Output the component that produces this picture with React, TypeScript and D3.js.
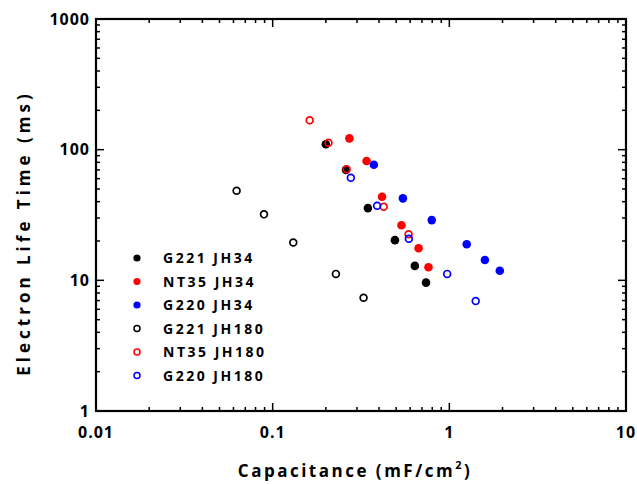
import * as d3 from 'd3';

// capacitance (mF/cm2) vs electron life time (ms)
const g221JH34 = [[0.2, 110], [0.26, 70], [0.346, 35.7], [0.492, 20.3], [0.638, 12.9], [0.738, 9.6]];
const nt35JH34 = [[0.272, 122], [0.34, 82], [0.416, 43.6], [0.536, 26.4], [0.67, 17.6], [0.762, 12.6]];
const g220JH34 = [[0.374, 76.7], [0.546, 42.4], [0.795, 28.9], [1.254, 18.9], [1.59, 14.3], [1.93, 11.85]];
const g221JH180 = [[0.0625, 48.5], [0.0893, 32], [0.1308, 19.5], [0.228, 11.2], [0.327, 7.36]];
const nt35JH180 = [[0.162, 168], [0.207, 113], [0.262, 70.7], [0.425, 36.6], [0.588, 22.5]];
const g220JH180 = [[0.277, 61], [0.39, 37.2], [0.59, 20.8], [0.972, 11.2], [1.41, 6.95]];

const seriesNames = ['G221 JH34', 'NT35 JH34', 'G220 JH34', 'G221 JH180', 'NT35 JH180', 'G220 JH180'];
const seriesData = [g221JH34, nt35JH34, g220JH34, g221JH180, nt35JH180, g220JH180];
const seriesColors = ['#000000', '#ff0000', '#0000ff', '#000000', '#ff0000', '#0000ff'];
const seriesFilled = [true, true, true, false, false, false];

const xTicks = [0.01, 0.1, 1, 10];
const xTickLabels = ['0.01', '0.1', '1', '10'];
const yTicks = [1, 10, 100, 1000];
const yTickLabels = ['1', '10', '100', '1000'];

const W = 637;
const H = 484;
const left = 96, right = 626, top = 19, bottom = 411;
const FONT = '"Open Sans", "DejaVu Sans", sans-serif';

export default function App() {
  const x = d3.scaleLog().domain([0.01, 10]).range([left, right]);
  const y = d3.scaleLog().domain([1, 1000]).range([bottom, top]);

  // minor ticks 2..9 in each decade
  const xMinor = x.ticks().filter(v => !xTicks.includes(v));
  const yMinor = y.ticks().filter(v => !yTicks.includes(v));

  return (
    <svg width={W} height={H} style={{ position: 'absolute', left: 0, top: 0, background: '#fff' }}
      fontFamily={FONT}>
      {/* ticks, inward on all four sides */}
      <g stroke="#000" strokeWidth={1.5}>
        {xMinor.map((v, i) => (
          <g key={'xm' + i}>
            <line x1={x(v)} x2={x(v)} y1={bottom} y2={bottom - 4} />
            <line x1={x(v)} x2={x(v)} y1={top} y2={top + 4} />
          </g>
        ))}
        {xTicks.map((v, i) => (
          <g key={'xM' + i}>
            <line x1={x(v)} x2={x(v)} y1={bottom} y2={bottom - 8} />
            <line x1={x(v)} x2={x(v)} y1={top} y2={top + 8} />
          </g>
        ))}
        {yMinor.map((v, i) => (
          <g key={'ym' + i}>
            <line x1={left} x2={left + 4} y1={y(v)} y2={y(v)} />
            <line x1={right} x2={right - 4} y1={y(v)} y2={y(v)} />
          </g>
        ))}
        {yTicks.map((v, i) => (
          <g key={'yM' + i}>
            <line x1={left} x2={left + 8} y1={y(v)} y2={y(v)} />
            <line x1={right} x2={right - 8} y1={y(v)} y2={y(v)} />
          </g>
        ))}
      </g>
      <rect x={left} y={top} width={right - left} height={bottom - top} fill="none" stroke="#000" strokeWidth={2.2} />

      {/* tick labels */}
      <g fontSize={16} fontWeight={700} fill="#000" letterSpacing={1}>
        {xTicks.map((v, i) => (
          <text key={'xl' + i} x={x(v)} y={438} textAnchor="middle">{xTickLabels[i]}</text>
        ))}
        {yTicks.map((v, i) => (
          <text key={'yl' + i} x={90} y={y(v)} dy="0.35em" textAnchor="end">{yTickLabels[i]}</text>
        ))}
      </g>

      {/* axis titles */}
      <text x={355} y={477} textAnchor="middle" fontSize={17} fontWeight={700} letterSpacing={2.5}>
        Capacitance (mF/cm<tspan dy={-8} fontSize={11}>2</tspan><tspan dy={8}>)</tspan>
      </text>
      <text transform={`translate(30,233) rotate(-90)`} textAnchor="middle" fontSize={17} fontWeight={700} letterSpacing={4}>
        Electron Life Time (ms)
      </text>

      {/* points */}
      {seriesData.map((pts, s) => (
        <g key={'s' + s}>
          {pts.map((p, i) =>
            seriesFilled[s] ? (
              <circle key={i} cx={x(p[0])} cy={y(p[1])} r={4.3} fill={seriesColors[s]} />
            ) : (
              <circle key={i} cx={x(p[0])} cy={y(p[1])} r={3.4} fill="none" stroke={seriesColors[s]} strokeWidth={1.7} />
            )
          )}
        </g>
      ))}

      {/* legend */}
      <g fontSize={14} fontWeight={700} letterSpacing={2.5}>
        {seriesNames.map((name, i) => {
          const ly = 258 + i * 23.5;
          return (
            <g key={'lg' + i}>
              {seriesFilled[i] ? (
                <circle cx={137} cy={ly} r={3.6} fill={seriesColors[i]} />
              ) : (
                <circle cx={137} cy={ly} r={3} fill="none" stroke={seriesColors[i]} strokeWidth={1.5} />
              )}
              <text x={163} y={ly} dy="0.36em">{name}</text>
            </g>
          );
        })}
      </g>
    </svg>
  );
}
